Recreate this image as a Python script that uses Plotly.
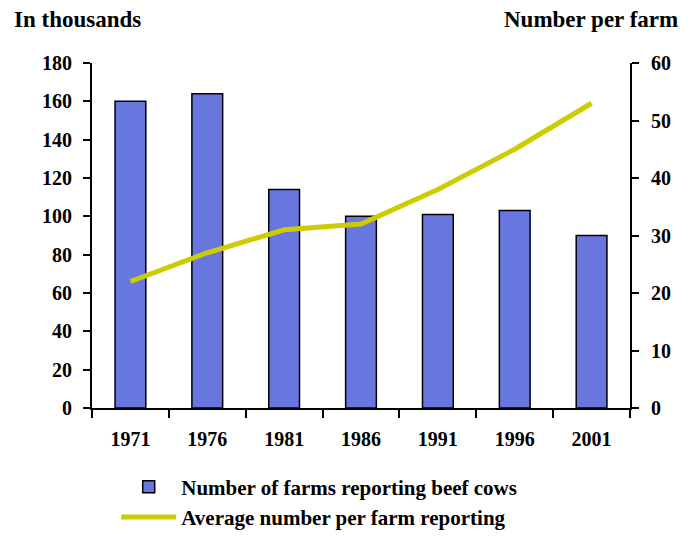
import plotly.graph_objects as go

years = ["1971", "1976", "1981", "1986", "1991", "1996", "2001"]
farms_thousands = [160, 164, 114, 100, 101, 103, 90]
avg_per_farm = [22, 27, 31, 32, 38, 45, 53]

left_ticks = [0, 20, 40, 60, 80, 100, 120, 140, 160, 180]
right_ticks = [0, 10, 20, 30, 40, 50, 60]

FONT = "Liberation Serif"
BAR_COLOR = "#6877E0"
LINE_COLOR = "#CCCC00"
TICKFONT = dict(family=FONT, size=20, color="black", weight="bold")

fig = go.Figure()
fig.add_trace(go.Bar(
    x=years, y=farms_thousands,
    name="<b>Number of farms reporting beef cows</b>",
    marker=dict(color=BAR_COLOR, line=dict(color="black", width=1.5)),
    width=0.4,
    yaxis="y",
))
fig.add_trace(go.Scatter(
    x=years, y=avg_per_farm,
    name="<b>Average number per farm reporting</b>",
    mode="lines",
    line=dict(color=LINE_COLOR, width=5),
    yaxis="y2",
))

fig.update_layout(
    width=684, height=531,
    paper_bgcolor="white", plot_bgcolor="white",
    margin=dict(l=84, r=62, t=55, b=131, autoexpand=False),
    font=dict(family=FONT, size=20, color="black"),
    showlegend=True,
    legend=dict(
        orientation="v", x=0.045, xanchor="left", y=-0.17, yanchor="top",
        font=dict(family=FONT, size=21, color="black"),
        itemwidth=55, tracegroupgap=10,
    ),
    xaxis=dict(
        type="category", automargin=False,
        showline=True, linecolor="black", linewidth=2,
        ticks="outside", tickson="boundaries", ticklen=8, tickwidth=2, tickcolor="black",
        tickfont=TICKFONT,
        showgrid=False, ticklabelstandoff=12,
    ),
    yaxis=dict(
        range=[0, 180], tickvals=left_ticks, automargin=False,
        showline=True, linecolor="black", linewidth=2,
        ticks="outside", ticklen=7, tickwidth=2, tickcolor="black",
        tickfont=TICKFONT,
        showgrid=False, zeroline=False,
        ticklabelstandoff=7,
    ),
    yaxis2=dict(
        range=[0, 60], tickvals=right_ticks, overlaying="y", side="right", automargin=False,
        showline=True, linecolor="black", linewidth=2,
        ticks="outside", ticklen=7, tickwidth=2, tickcolor="black",
        tickfont=TICKFONT,
        showgrid=False, zeroline=False,
        ticklabelstandoff=8,
    ),
    annotations=[
        dict(text="<b>In thousands</b>", xref="paper", yref="paper",
             x=-0.149, y=1.125, xanchor="left", yanchor="middle", showarrow=False,
             font=dict(family=FONT, size=23, color="black")),
        dict(text="<b>Number per farm</b>", xref="paper", yref="paper",
             x=1.093, y=1.125, xanchor="right", yanchor="middle", showarrow=False,
             font=dict(family=FONT, size=23, color="black")),
    ],
)

fig.write_html("out.html")
